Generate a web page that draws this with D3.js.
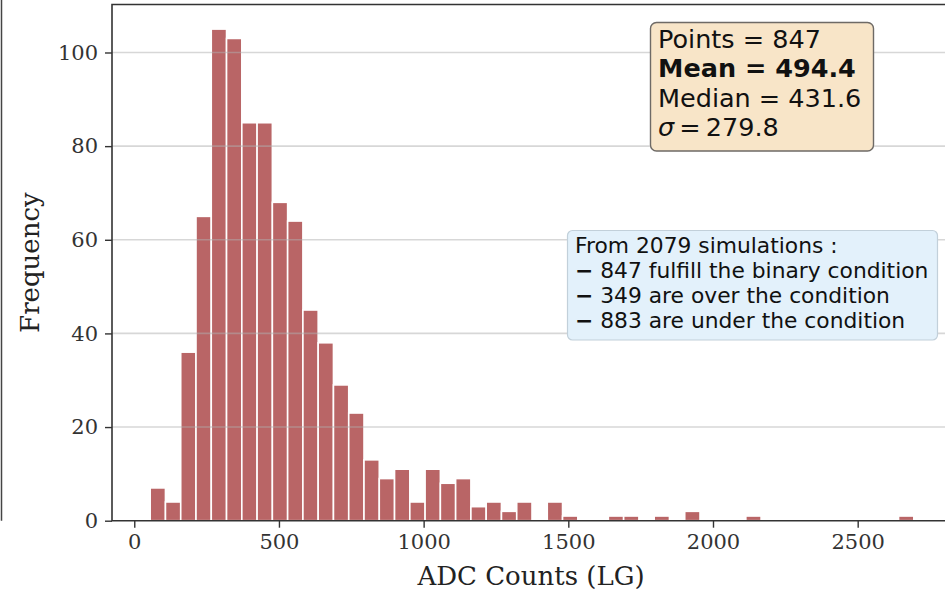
<!DOCTYPE html>
<html>
<head>
<meta charset="utf-8">
<script src="https://cdn.jsdelivr.net/npm/d3@7"></script>
<style>
  body { margin: 0; background: #fff; }
</style>
</head>
<body>
<script>
(() => {
    // histogram: 50 equal bins between binMin and binMax
    const binMin = 55
    const binMax = 2694
    const counts = [7, 4, 36, 65, 105, 103, 85, 85, 68, 64,
        45, 38, 29, 23, 13, 9, 11, 4, 11, 8,
        9, 3, 4, 2, 4, 0, 4, 1, 0, 0,
        1, 1, 0, 1, 0, 2, 0, 0, 0, 1,
        0, 0, 0, 0, 0, 0, 0, 0, 0, 1]
    const xTicks = [0, 500, 1000, 1500, 2000, 2500]
    const yTicks = [0, 20, 40, 60, 80, 100]
    const statNames = ["Points", "Mean", "Median", "σ"]
    const statValues = ["847", "494.4", "431.6", "279.8"]
    const infoHead = "From 2079 simulations :"
    const infoLines = ["847 fulfill the binary condition", "349 are over the condition",
        "883 are under the condition"]

    const W = 945, H = 592
    const left = 112, right = 952, top = 4.5, bottom = 520.7
    const nb = counts.length
    const bw = (binMax - binMin) / nb
    const bins = counts.map((c, i) => ({ x0: binMin + i * bw, x1: binMin + (i + 1) * bw, c }))

    const pad = (binMax - binMin) * 0.05
    const x = d3.scaleLinear().domain([binMin - pad, binMax + pad]).range([left, right])
    const y = d3.scaleLinear().domain([0, d3.max(counts) * 1.05]).range([bottom, top])

    const svg = d3.select("body").append("svg")
        .attr("width", W).attr("height", H)
        .style("display", "block")

    // stray spine of a neighbouring panel
    svg.append("line")
        .attr("x1", 1.5).attr("x2", 1.5).attr("y1", 0).attr("y2", bottom)
        .attr("stroke", "#444").attr("stroke-width", 1.5)

    svg.append("g")
        .selectAll("rect")
        .data(bins.filter(d => d.c > 0))
        .join("rect")
        .attr("x", d => x(d.x0))
        .attr("width", d => x(d.x1) - x(d.x0))
        .attr("y", d => y(d.c))
        .attr("height", d => y(0) - y(d.c))
        .attr("fill", "#b96566")
        .attr("stroke", "#fff")
        .attr("stroke-width", 1.6)

    // grid on top of the bars
    svg.append("g")
        .selectAll("line")
        .data(yTicks.slice(1))
        .join("line")
        .attr("x1", left).attr("x2", right)
        .attr("y1", d => y(d)).attr("y2", d => y(d))
        .attr("stroke", "#b0b0b0")
        .attr("stroke-opacity", 0.5)
        .attr("stroke-width", 1.6)

    const xAxis = svg.append("g")
        .attr("transform", `translate(0,${bottom})`)
        .call(d3.axisBottom(x).tickValues(xTicks).tickSize(7).tickPadding(6).tickFormat(d3.format("d")))
    const yAxis = svg.append("g")
        .attr("transform", `translate(${left},0)`)
        .call(d3.axisLeft(y).tickValues(yTicks).tickSize(7).tickPadding(7).tickFormat(d3.format("d")))
    for (const ax of [xAxis, yAxis]) {
        ax.select(".domain").remove()
        ax.selectAll(".tick line").attr("stroke", "#333").attr("stroke-width", 1.4)
        ax.selectAll(".tick text")
            .attr("fill", "#333")
            .style("font-family", "'DejaVu Serif', serif")
            .style("font-size", "21px")
    }

    // spines
    svg.append("path")
        .attr("d", `M${right},${top}H${left}V${bottom}H${right}`)
        .attr("fill", "none").attr("stroke", "#333").attr("stroke-width", 1.6)

    svg.append("text")
        .attr("x", (left + right) / 2 - 1).attr("y", 585)
        .attr("text-anchor", "middle")
        .style("font-family", "'DejaVu Serif', serif").style("font-size", "26px")
        .attr("fill", "#222")
        .text("ADC Counts (LG)")
    svg.append("text")
        .attr("transform", `translate(39,${(top + bottom) / 2}) rotate(-90)`)
        .attr("text-anchor", "middle")
        .style("font-family", "'DejaVu Serif', serif").style("font-size", "26px")
        .attr("fill", "#222")
        .text("Frequency")

    // stats box
    svg.append("rect")
        .attr("x", 650.5).attr("y", 22.5).attr("width", 223).attr("height", 128.5)
        .attr("rx", 6).attr("fill", "#f8e5c8").attr("stroke", "#6e6a66").attr("stroke-width", 1.4)
    const st = svg.append("g").selectAll("text")
        .data(statNames)
        .join("text")
        .attr("x", 658).attr("y", (d, i) => 47.5 + i * 29.6)
        .style("font-family", "'DejaVu Sans', sans-serif").style("font-size", "25.5px")
        .style("font-weight", (d, i) => i === 1 ? "bold" : "normal")
        .attr("fill", "#111")
    st.append("tspan")
        .style("font-style", (d, i) => i === 3 ? "italic" : "normal")
        .text(d => d)
    st.append("tspan")
        .attr("xml:space", "preserve")
        .text((d, i) => (i === 3 ? "\u2009=\u2009" : " = ") + statValues[i])

    // info box
    svg.append("rect")
        .attr("x", 567.5).attr("y", 230.5).attr("width", 370).attr("height", 109.5)
        .attr("rx", 5).attr("fill", "#e3f1fb").attr("stroke", "#c2d0da").attr("stroke-width", 1.2)
    const info = svg.append("g")
        .style("font-family", "'DejaVu Sans', sans-serif").style("font-size", "21.8px")
        .attr("fill", "#111")
    info.append("text").attr("x", 575).attr("y", 253).text(infoHead)
    const il = info.selectAll("text.l")
        .data(infoLines)
        .join("text")
        .attr("class", "l")
        .attr("x", 575).attr("y", (d, i) => 278 + i * 25)
    il.append("tspan").style("font-weight", "bold").text("\u2212")
    il.append("tspan").text(d => " " + d)
})()
</script>
</body>
</html>
